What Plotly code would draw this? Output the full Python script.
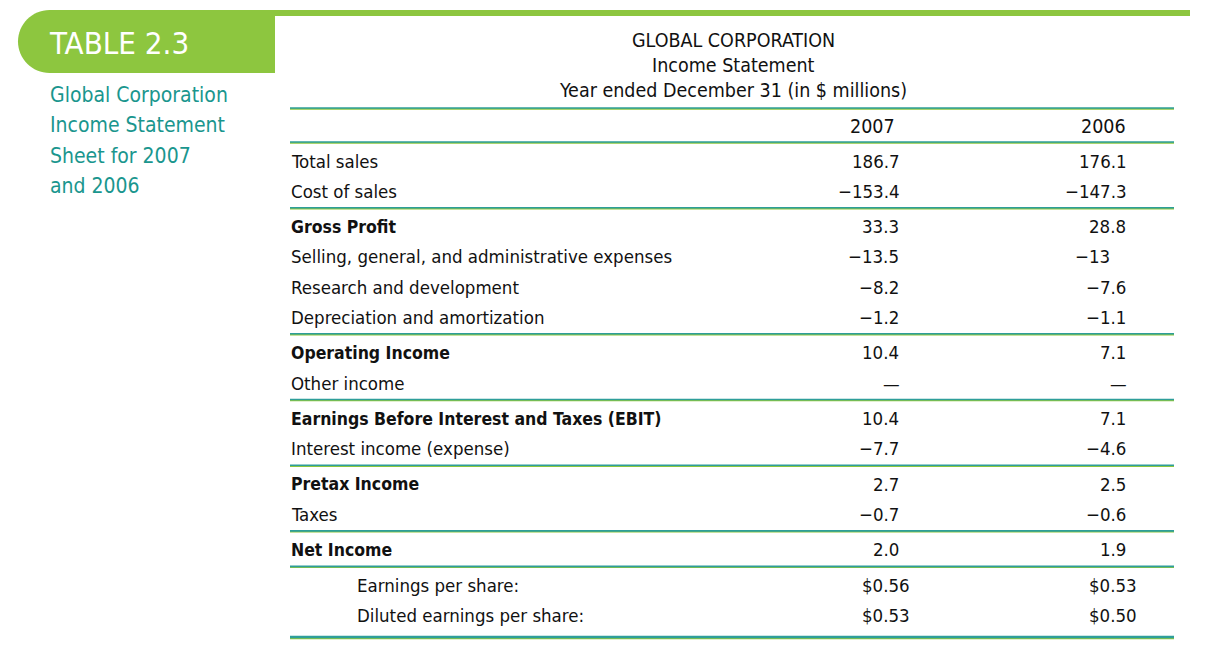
import plotly.graph_objects as go

# table content
line_items = [
    "Total sales", "Cost of sales",
    "Gross Profit", "Selling, general, and administrative expenses",
    "Research and development", "Depreciation and amortization",
    "Operating Income", "Other income",
    "Earnings Before Interest and Taxes (EBIT)", "Interest income (expense)",
    "Pretax Income", "Taxes",
    "Net Income",
    "Earnings per share:", "Diluted earnings per share:",
]
values_2007 = ["186.7", "\u2212153.4", "33.3", "\u221213.5", "\u22128.2", "\u22121.2",
               "10.4", "\u2014", "10.4", "\u22127.7", "2.7", "\u22120.7", "2.0",
               "$0.56", "$0.53"]
values_2006 = ["176.1", "\u2212147.3", "28.8", "\u221213", "\u22127.6", "\u22121.1",
               "7.1", "\u2014", "7.1", "\u22124.6", "2.5", "\u22120.6", "1.9",
               "$0.53", "$0.50"]
years = ["2007", "2006"]

title_lines = ["GLOBAL CORPORATION", "Income Statement",
               "Year ended December 31 (in $ millions)"]
side_caption = ["Global Corporation", "Income Statement",
                "Sheet for 2007", "and 2006"]
table_tag = "TABLE 2.3"

# styling
bold_rows = {"Gross Profit", "Operating Income",
             "Earnings Before Interest and Taxes (EBIT)", "Pretax Income", "Net Income"}
indented_rows = {"Earnings per share:", "Diluted earnings per share:"}
rule_after = [1, 5, 7, 9, 11, 12]

GREEN = "#8DC63F"
TEAL = "#1A968E"
RULE = "#2E9E9A"
FONT = "DejaVu Sans Condensed, Liberation Sans Narrow, sans-serif"
W, H = 1207, 648
OFF = 8  # page body margin
HIDE = "<span style='color:rgba(0,0,0,0)'>{}</span>"

fig = go.Figure()

# row positions
row_pitch, group_gap, first_row = 30.2, 5.3, 161
row_y = []
breaks = 0
for i in range(len(line_items)):
    row_y.append(first_row + i * row_pitch + breaks * group_gap)
    if i in rule_after:
        breaks += 1

left, right = 290, 1174
label_x, indent_x = 289, 355
col_right = [912, 1139]
year_x = [872, 1103]

annotations = []
shapes = []


def txt(x, y, s, size=18.5, color="#111", anchor="left", weight="normal"):
    annotations.append(dict(
        x=x, y=y, xref="x", yref="y", text=s, showarrow=False,
        xanchor=anchor, yanchor="middle",
        font=dict(family=FONT, size=size, color=color, weight=weight),
    ))


def aligned(v):
    # pad to two decimals with invisible digits so columns line up on the point
    if v == "\u2014":
        return "\u2014\u2014"[:1] + HIDE.format("0")
    if "." not in v:
        return v + HIDE.format(".00")
    dec = len(v.split(".")[1])
    return v + (HIDE.format("0" * (2 - dec)) if dec < 2 else "")


# title block
for k, line in enumerate(title_lines):
    txt(733, 40 + k * 25, line, size=19.5, anchor="center")

# year headers
for yr, x in zip(years, year_x):
    txt(x, 126, yr, size=19.5, anchor="center")

# rows
for i, item in enumerate(line_items):
    y = row_y[i]
    x0 = indent_x if item in indented_rows else label_x
    if item in bold_rows:
        txt(x0, y, item, size=17.5, weight="bold")
    else:
        txt(x0, y, item)
    for col, vals in enumerate([values_2007, values_2006]):
        txt(col_right[col], y, aligned(vals[i]), anchor="right")


def rule(y, width=1.6):
    shapes.append(dict(type="line", xref="x", yref="y", x0=left, x1=right,
                       y0=y + 0.9, y1=y + 0.9, line=dict(color=GREEN, width=width)))
    shapes.append(dict(type="line", xref="x", yref="y", x0=left, x1=right,
                       y0=y, y1=y, line=dict(color=RULE, width=width)))


rule(108)
rule(142)
for i in rule_after:
    rule(row_y[i] + 16.5)
rule(637, width=2.6)

# green top bar and rounded tag
shapes.append(dict(type="rect", xref="x", yref="y", x0=270, x1=1190, y0=10, y1=16,
                   fillcolor=GREEN, line_width=0, layer="below"))
r, k = 31.5, 0.5523
cx, cy, x_left = 18 + r, 41.5, 18
shapes.append(dict(
    type="path", xref="x", yref="y",
    path=(f"M {cx},10 L 275,10 L 275,73 L {cx},73 "
          f"C {cx - k * r},73 {x_left},{cy + k * r} {x_left},{cy} "
          f"C {x_left},{cy - k * r} {cx - k * r},10 {cx},10 Z"),
    fillcolor=GREEN, line_width=0, layer="below",
))
txt(47, 43, table_tag, size=31, color="white")

for j, line in enumerate(side_caption):
    txt(48, 95 + j * 30.4, line, size=21, color=TEAL)

fig.update_layout(
    width=W, height=H,
    margin=dict(l=0, r=0, t=0, b=0),
    paper_bgcolor="white", plot_bgcolor="white",
    xaxis=dict(range=[OFF, W + OFF], visible=False, fixedrange=True),
    yaxis=dict(range=[H + OFF, OFF], visible=False, fixedrange=True),
    annotations=annotations, shapes=shapes,
    showlegend=False,
)

fig.write_html("out.html")
